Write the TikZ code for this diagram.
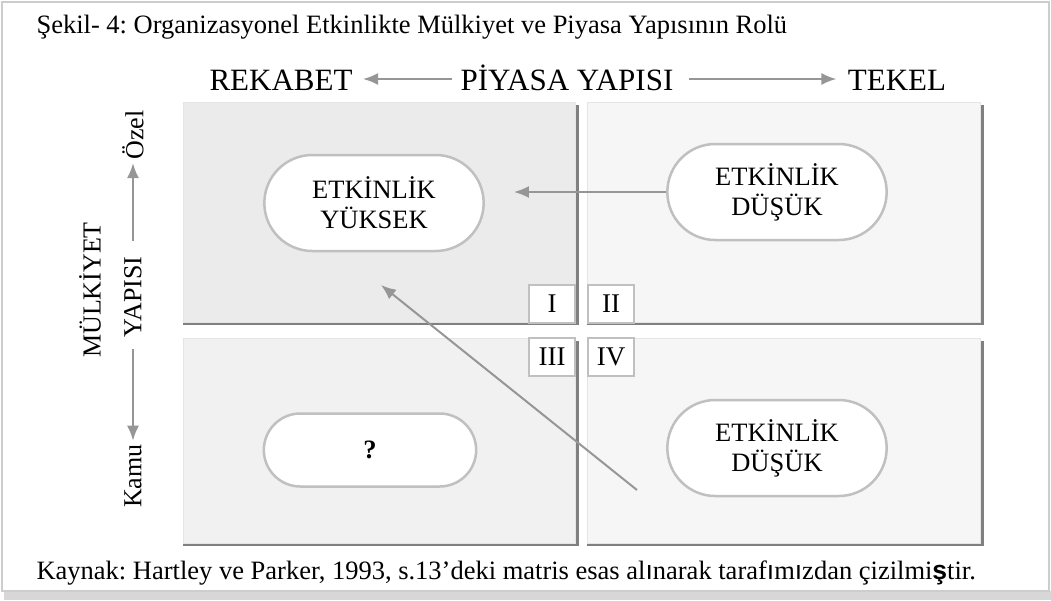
\documentclass[tikz,border=0pt]{standalone}
\usepackage{fontspec}
\setmainfont{Liberation Serif}
\newfontfamily\sansfont{Liberation Sans}
\usetikzlibrary{shapes.misc,arrows.meta}
\frenchspacing

\definecolor{framegray}{RGB}{205,205,205}
\definecolor{shadowgray}{RGB}{128,128,128}
\definecolor{arrowgray}{RGB}{150,150,150}
\definecolor{pillgray}{RGB}{192,192,192}
\definecolor{quadA}{RGB}{235,235,235}
\definecolor{quadB}{RGB}{246,246,246}
\definecolor{quadC}{RGB}{241,241,241}

\begin{document}
\begin{tikzpicture}[x=1pt, y=-1pt]
	\tikzset{>={Latex[length=15pt,width=12pt]}}
	\tikzset{
		quad/.style={anchor=north west, inner sep=0, fill=#1, draw=white!90!black, line width=0.8pt},
		pill/.style={rounded rectangle, draw=pillgray, line width=2.5pt, fill=white, minimum width=226pt, minimum height=96pt, align=center, font=\fontsize{26.5}{30}\selectfont},
		numbox/.style={draw=pillgray, line width=1.6pt, fill=white, minimum width=46pt, minimum height=38pt, inner sep=0, font=\fontsize{27}{28}\selectfont},
		garrow/.style={->, draw=arrowgray, line width=2pt},
		lbl/.style={anchor=base, font=\fontsize{31}{34}\selectfont},
		side/.style={rotate=90, font=\fontsize{26}{28}\selectfont},
		note/.style={anchor=west, font=\fontsize{26.5}{28}\selectfont}
	}
	\useasboundingbox (0,0) rectangle (1051,600);
	% frame and its shadow
	\fill[framegray!80] (4,591) rectangle (1051,600);
	\draw[framegray, line width=2pt] (2,2) rectangle (1049,591);
	\node[note] (title) at (33,27) {Şekil- 4: Organizasyonel Etkinlikte Mülkiyet ve Piyasa Yapısının Rolü};
	\node[note] (source) at (33,573) {Kaynak: Hartley ve Parker, 1993, s.13’deki matris esas al{\sansfont ı}narak taraf{\sansfont ı}m{\sansfont ı}zdan çizilmi{\sansfont\bfseries ş}tir.};
	% quadrants
	\node[quad=quadA, minimum width=392pt, minimum height=220pt] (q1) at (183,102) {};
	\node[quad=quadB, minimum width=393pt, minimum height=220pt] (q2) at (587,102) {};
	\node[quad=quadC, minimum width=392pt, minimum height=205pt] (q3) at (183,338) {};
	\node[quad=quadB, minimum width=393pt, minimum height=205pt] (q4) at (587,338) {};
	\foreach \q in {q1,q2,q3,q4} {
		\draw[shadowgray, line width=3pt] ([shift={(1.5,3)}]\q.north east) -- ([shift={(1.5,1)}]\q.south east);
		\draw[shadowgray, line width=1.5pt] ([shift={(0,1)}]\q.south west) -- ([shift={(3,1)}]\q.south east);
	}
	% axis labels
	\node[lbl] (rekabet) at (281,90) {REKABET};
	\node[lbl] (piyasa) at (567,90) {PİYASA YAPISI};
	\node[lbl] (tekel) at (897,90) {TEKEL};
	\coordinate (row) at (0,79);
	\draw[garrow, shorten <=5pt, shorten >=7pt] (piyasa.west |- row) -- (rekabet.east |- row);
	\draw[garrow, shorten <=12pt, shorten >=8pt] (piyasa.east |- row) -- (tekel.west |- row);
	\node[side] (ozel) at (133,135) {Özel};
	\node[side] (yapisi) at (133,297) {YAPISI};
	\node[side] (mulkiyet) at (90,290) {MÜLKİYET};
	\node[side] (kamu) at (133,476) {Kamu};
	\draw[garrow, shorten <=12pt] (yapisi) -- (ozel);
	\draw[garrow, shorten <=8pt] (yapisi) -- (kamu);
	% cells
	\node[pill] (yuksek) at (374,203) {ETKİNLİK\\YÜKSEK};
	\node[pill] (dusukA) at (777,192) {ETKİNLİK\\DÜŞÜK};
	\node[pill, minimum width=219pt, minimum height=73pt] (soru) at (370,450) {\textbf{?}};
	\node[pill] (dusukB) at (777,448) {ETKİNLİK\\DÜŞÜK};
	\node[numbox] (nI) at (552,304) {I};
	\node[numbox] (nII) at (611,304) {II};
	\node[numbox] (nIII) at (552,357) {III};
	\node[numbox] (nIV) at (611,357) {IV};
	% moves
	\coordinate (from) at (637,490);
	\coordinate (to) at (381,285);
	\draw[garrow, shorten >=29pt] (dusukA.west) -- (dusukA.west -| yuksek.east);
	\draw[garrow] (from) -- (to);
\end{tikzpicture}
\end{document}
